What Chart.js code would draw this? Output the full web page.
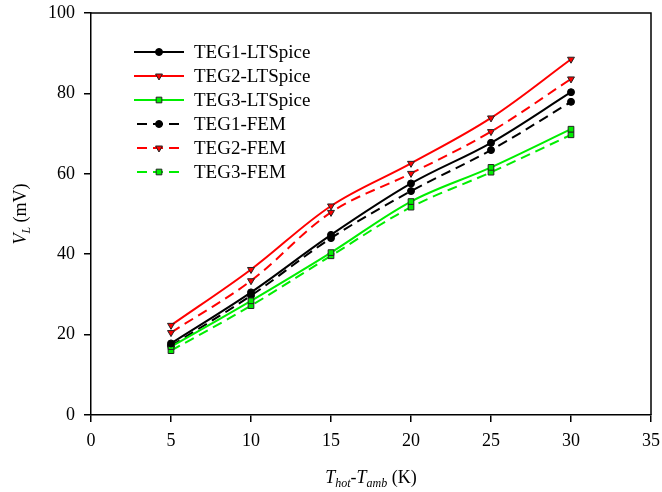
<!DOCTYPE html>
<html>
<head>
<meta charset="utf-8">
<script src="https://cdn.jsdelivr.net/npm/chart.js@4.4.1/dist/chart.umd.min.js"></script>
<style>
  body { margin: 0; background: #fff; }
</style>
</head>
<body>
<canvas id="chart" width="662" height="492"></canvas>
<script>
// Data
const tempDiff = [5, 10, 15, 20, 25, 30];
const teg1Spice = [17.8, 30.5, 44.8, 57.6, 67.7, 80.3];
const teg2Spice = [22.3, 36.2, 52.0, 62.6, 73.9, 88.5];
const teg3Spice = [17.0, 28.4, 40.4, 53.1, 61.6, 71.1];
const teg1Fem = [17.2, 29.7, 44.0, 55.7, 65.9, 77.9];
const teg2Fem = [20.5, 33.4, 50.4, 60.1, 70.5, 83.6];
const teg3Fem = [16.0, 27.2, 39.6, 51.7, 60.4, 69.7];
const xTicks = [0, 5, 10, 15, 20, 25, 30, 35];
const yTicks = [0, 20, 40, 60, 80, 100];

const FONT = '"Liberation Serif", "Times New Roman", serif';

const toPoints = arr => arr.map((v, i) => ({ x: tempDiff[i], y: v }));

function series(label, values, color, style, dashed) {
    return {
        label: label,
        data: toPoints(values),
        borderColor: color,
        backgroundColor: color,
        borderWidth: 2,
        borderDash: dashed ? [10, 6] : [],
        tension: 0.35,
        pointStyle: style,
        pointRotation: style === 'triangle' ? 180 : 0,
        pointRadius: style === 'circle' ? 3.5 : 4,
        pointBorderWidth: 1,
        pointBackgroundColor: color,
        pointBorderColor: style === 'circle' ? '#000' : '#222'
    };
}

// keep the plot area fixed: no extra room for overflowing tick labels
function fixScale(s, size) {
    if (s.isHorizontal()) s.height = size; else s.width = size;
    s.paddingTop = s.paddingBottom = s.paddingLeft = s.paddingRight = 0;
}

// top/right frame, custom legend and axis titles with subscripts
const decorations = {
    id: 'decorations',
    afterDraw(chart) {
        const ctx = chart.ctx;
        const a = chart.chartArea;
        ctx.save();
        ctx.strokeStyle = '#000';
        ctx.lineWidth = 1.5;
        ctx.beginPath();
        ctx.moveTo(a.left, a.top);
        ctx.lineTo(a.right, a.top);
        ctx.lineTo(a.right, a.bottom);
        ctx.stroke();

        // legend
        chart.data.datasets.forEach((ds, i) => {
            const y = 52 + i * 24;
            ctx.strokeStyle = ds.borderColor;
            ctx.lineWidth = 2;
            ctx.setLineDash(ds.borderDash.length ? [10, 6] : []);
            ctx.beginPath();
            ctx.moveTo(ds.borderDash.length ? 137 : 134, y);
            ctx.lineTo(184, y);
            ctx.stroke();
            ctx.setLineDash([]);
            ctx.fillStyle = ds.pointBackgroundColor;
            ctx.strokeStyle = ds.pointBorderColor;
            ctx.lineWidth = 1;
            Chart.helpers.drawPoint(ctx, {
                pointStyle: ds.pointStyle,
                rotation: ds.pointRotation,
                radius: ds.pointRadius,
                borderWidth: 1
            }, 159, y);
            ctx.fillStyle = '#000';
            ctx.font = '19px ' + FONT;
            ctx.textBaseline = 'middle';
            ctx.textAlign = 'left';
            ctx.fillText(ds.label, 194, y + 1);
        });

        // axis titles
        const parts = (list) => list.map(p => {
            ctx.font = p.font;
            return Object.assign({ w: ctx.measureText(p.t).width }, p);
        });
        const drawParts = (list, cx, cy) => {
            const total = list.reduce((s, p) => s + p.w, 0);
            let x = cx - total / 2;
            ctx.textAlign = 'left';
            ctx.textBaseline = 'alphabetic';
            list.forEach(p => {
                ctx.font = p.font;
                ctx.fillText(p.t, x, cy + (p.dy || 0));
                x += p.w;
            });
        };
        ctx.fillStyle = '#000';
        const big = '18px ' + FONT, bigI = 'italic 18px ' + FONT, subI = 'italic 12px ' + FONT;
        const xTitle = parts([
            { t: 'T', font: bigI }, { t: 'hot', font: subI, dy: 4 },
            { t: '-', font: big }, { t: 'T', font: bigI }, { t: 'amb', font: subI, dy: 4 },
            { t: ' (K)', font: big }
        ]);
        drawParts(xTitle, (a.left + a.right) / 2, 483);

        ctx.translate(26, (a.top + a.bottom) / 2);
        ctx.rotate(-Math.PI / 2);
        const yTitle = parts([
            { t: 'V', font: bigI }, { t: 'L', font: subI, dy: 4 }, { t: ' (mV)', font: big }
        ]);
        drawParts(yTitle, 0, 0);
        ctx.restore();
    }
};

const tickFont = { family: FONT, size: 18 };

new Chart(document.getElementById('chart'), {
    type: 'line',
    data: {
        datasets: [
            series('TEG1-LTSpice', teg1Spice, '#000000', 'circle', false),
            series('TEG2-LTSpice', teg2Spice, '#ff0000', 'triangle', false),
            series('TEG3-LTSpice', teg3Spice, '#00ee00', 'rect', false),
            series('TEG1-FEM', teg1Fem, '#000000', 'circle', true),
            series('TEG2-FEM', teg2Fem, '#ff0000', 'triangle', true),
            series('TEG3-FEM', teg3Fem, '#00ee00', 'rect', true)
        ]
    },
    options: {
        responsive: false,
        animation: false,
        layout: { padding: { top: 13, right: 11, left: 0, bottom: 0 } },
        plugins: { legend: { display: false }, tooltip: { enabled: false } },
        scales: {
            x: {
                type: 'linear',
                min: 0,
                max: 35,
                afterFit: s => fixScale(s, 77),
                afterBuildTicks: s => { s.ticks = xTicks.map(v => ({ value: v })); },
                border: { color: '#000', width: 1.5 },
                grid: { drawOnChartArea: false, drawTicks: true, tickLength: 7, color: '#000', lineWidth: 1.5 },
                ticks: { color: '#000', font: tickFont, padding: 8, maxRotation: 0 }
            },
            y: {
                min: 0,
                max: 100,
                afterFit: s => fixScale(s, 91),
                afterBuildTicks: s => { s.ticks = yTicks.map(v => ({ value: v })); },
                border: { color: '#000', width: 1.5 },
                grid: { drawOnChartArea: false, drawTicks: true, tickLength: 7, color: '#000', lineWidth: 1.5 },
                ticks: { color: '#000', font: tickFont, padding: 9 }
            }
        }
    },
    plugins: [decorations]
});
</script>
</body>
</html>
